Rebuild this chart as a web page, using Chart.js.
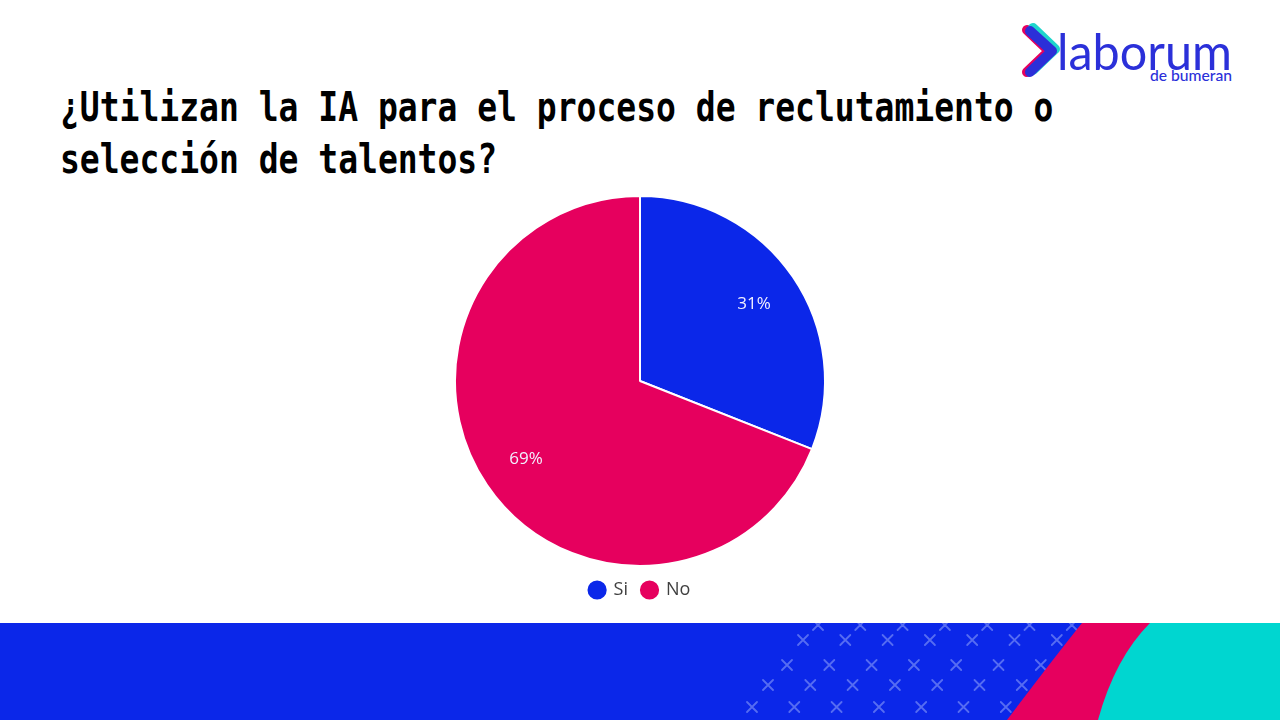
<!DOCTYPE html>
<html>
<head>
<meta charset="utf-8">
<script src="https://cdn.jsdelivr.net/npm/chart.js@4.4.1/dist/chart.umd.min.js"></script>
<style>
  html,body{margin:0;padding:0;width:1280px;height:720px;background:#fff;overflow:hidden;position:relative;font-family:"Open Sans",sans-serif;}
  .title{position:absolute;left:60px;top:81px;font-family:"DejaVu Sans Mono",monospace;font-weight:bold;font-size:40px;line-height:52px;color:#000;white-space:nowrap;transform:scaleX(0.825);transform-origin:0 0;letter-spacing:0px;}
  #chartBox{position:absolute;left:0;top:195px;width:1280px;height:414px;}
  #logo{position:absolute;left:1018px;top:20px;width:240px;height:70px;}
  #banner{position:absolute;left:0;top:623px;width:1280px;height:97px;}
</style>
</head>
<body>
<div class="title">¿Utilizan la IA para el proceso de reclutamiento o<br>selección de talentos?</div>

<svg id="logo" viewBox="0 0 240 70" xmlns="http://www.w3.org/2000/svg">
  <path d="M9 10 L31 31 L9 52" fill="none" stroke="#e6005e" stroke-width="10" stroke-linecap="round" stroke-linejoin="round"/>
  <path d="M15 8 L37 29 L15 50" fill="none" stroke="#1fd6cc" stroke-width="10" stroke-linecap="round" stroke-linejoin="round"/>
  <path d="M12 11 L34 31 L12 52" fill="none" stroke="#2b2fd8" stroke-width="10" stroke-linecap="round" stroke-linejoin="round"/>
  <text x="39" y="50" font-family="Lato, sans-serif" font-size="50" fill="#2b30d9" font-weight="400" textLength="175" lengthAdjust="spacingAndGlyphs">laborum</text>
  <text x="214" y="61" text-anchor="end" font-family="Lato, sans-serif" font-size="15" font-weight="500" fill="#2b30d9" textLength="82" lengthAdjust="spacingAndGlyphs">de bumeran</text>
</svg>

<svg id="banner" viewBox="0 0 1280 97" xmlns="http://www.w3.org/2000/svg">
  <rect x="0" y="0" width="1280" height="97" fill="#0b27e9"/>
  <g id="xs" stroke="#6f84f5" stroke-width="1.8" stroke-linecap="round" opacity="0.75"></g>
  <path d="M1082 0 L1160 0 L1160 97 L1007 97 Q1050 40 1082 0 Z" fill="#e6005e"/>
  <path d="M1150 0 L1280 0 L1280 97 L1098 97 Q1115 35 1150 0 Z" fill="#00d6d0"/>
</svg>

<div id="chartBox"><canvas id="c"></canvas></div>

<script>
// ---- data ----
const categories = ["Si", "No"];
const values = [31, 69];
const colors = ["#0b27e9", "#e6005e"];

// decorative X marks in banner (pattern)
(function(){
  const g = document.getElementById('xs');
  const rows = [
    {y:17, x0:803},
    {y:42, x0:787},
    {y:62, x0:768},
    {y:84, x0:752},
    {y:2,  x0:818}
  ];
  let s = '';
  rows.forEach(r=>{
    for(let i=0;i<8;i++){
      const x = r.x0 + i*42.3;
      if (x > 1075 - (r.y*0.8)) continue;
      s += `<path d="M${x-5} ${r.y-5} L${x+5} ${r.y+5} M${x+5} ${r.y-5} L${x-5} ${r.y+5}"/>`;
    }
  });
  g.innerHTML = s;
})();

const labelPlugin = {
  id: 'sliceLabels',
  afterDatasetsDraw(chart){
    const ctx = chart.ctx;
    const meta = chart.getDatasetMeta(0);
    const data = chart.data.datasets[0].data;
    const total = data.reduce((a,b)=>a+b,0);
    ctx.save();
    ctx.fillStyle = '#f2f0ff';
    ctx.font = '17px "Open Sans", sans-serif';
    ctx.textAlign = 'center';
    ctx.textBaseline = 'middle';
    meta.data.forEach((arc,i)=>{
      const p = arc.getProps(['x','y','startAngle','endAngle','outerRadius'], true);
      const mid = (p.startAngle + p.endAngle)/2;
      const r = p.outerRadius*0.745;
      ctx.fillText(Math.round(data[i]/total*100) + '%', p.x + Math.cos(mid)*r, p.y + Math.sin(mid)*r + 1);
    });
    ctx.restore();
  }
};

new Chart(document.getElementById('c'), {
  type: 'pie',
  data: {
    labels: categories,
    datasets: [{
      data: values,
      backgroundColor: colors,
      borderColor: '#ffffff',
      borderWidth: 2
    }]
  },
  options: {
    responsive: true,
    maintainAspectRatio: false,
    animation: false,
    layout: {padding: 0},
    plugins: {
      tooltip: {enabled:false},
      legend: {
        position: 'bottom',
        labels: {
          usePointStyle: true,
          pointStyle: 'circle',
          boxWidth: 15,
          boxHeight: 15,
          padding: 14,
          color: '#404040',
          font: {family: '"Open Sans", sans-serif', size: 18}
        }
      }
    }
  },
  plugins: [labelPlugin]
});
</script>
</body>
</html>
